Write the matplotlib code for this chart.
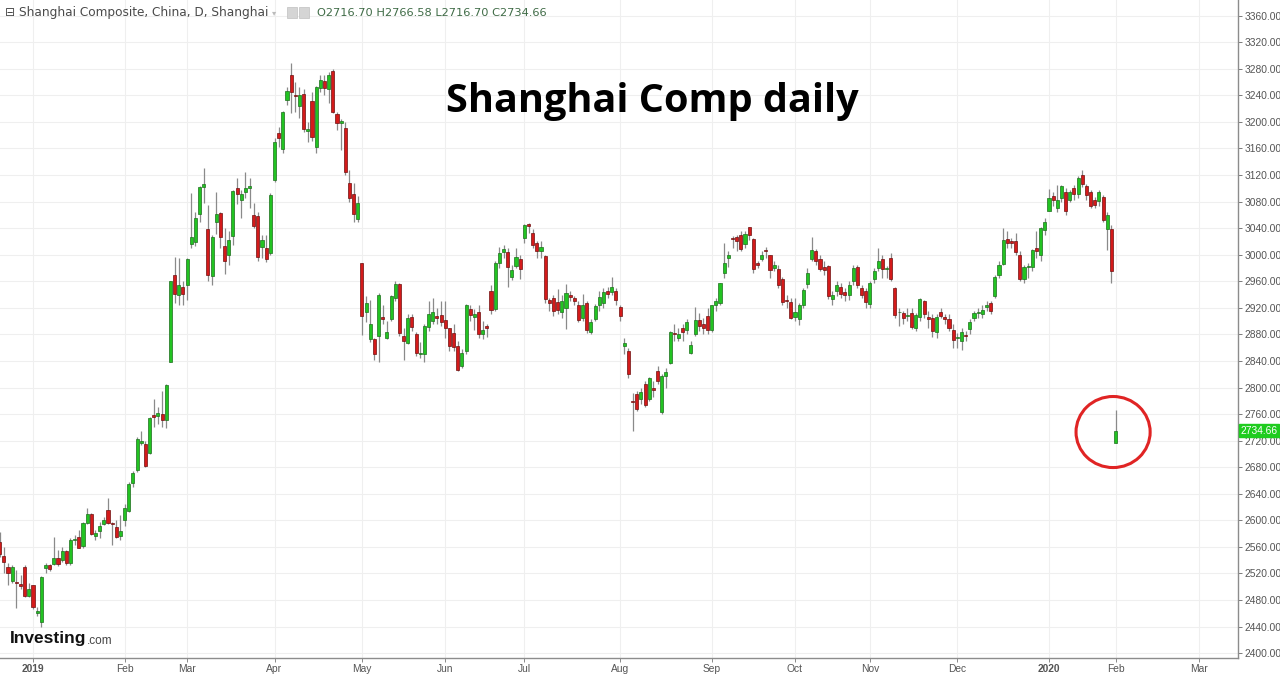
import numpy as np
import pandas as pd
import matplotlib
matplotlib.use("Agg")
from matplotlib import pyplot as plt
from matplotlib import font_manager
from matplotlib.patches import Ellipse, Rectangle

# Shanghai Composite daily OHLC, 19 Dec 2018 .. 3 Feb 2020
opens = [
    2568, 2547, 2530, 2509, 2507, 2504, 2530, 2486,  # Dec 2018
    2502, 2461, 2447, 2528, 2533, 2534, 2544, 2540, 2554, 2536, 2570,
    2575, 2562, 2596, 2610, 2576, 2584, 2594, 2615, 2596, 2590, 2576,  # Jan
    2600, 2614, 2656, 2676, 2716, 2715, 2702, 2759, 2757, 2760, 2751,
    2838, 2970, 2940, 2952,  # Feb
    2954, 3016, 3019, 3061, 3102, 3039, 2968, 3049, 3063, 3013, 2999,
    3028, 3100, 3083, 3094, 3100, 3060, 3058, 3012, 3010, 3002,  # Mar
    3113, 3184, 3159, 3233, 3271, 3241, 3224, 3242, 3186, 3232, 3162,
    3251, 3261, 3249, 3277, 3212, 3198, 3191, 3108, 3091, 3054,  # Apr
    2987, 2914, 2873, 2873, 2878, 2906, 2875, 2903, 2935, 2956, 2877,
    2867, 2906, 2880, 2850, 2851, 2891, 2900, 2908, 2909,  # May
    2902, 2889, 2882, 2862, 2833, 2855, 2918, 2906, 2913, 2881, 2893,
    2945, 2918, 2987, 3004, 3004, 2966, 2983, 2993,  # Jun
    3025, 3046, 3032, 3017, 3005, 2998, 2932, 2935, 2929, 2914, 2920,
    2940, 2935, 2925, 2905, 2927, 2883, 2903, 2925, 2928, 2946, 2944, 2946,  # Jul
    2922, 2862, 2855, 2780, 2791, 2783, 2806, 2783, 2800, 2825, 2763,
    2817, 2837, 2882, 2875, 2889, 2886, 2852, 2880, 2901, 2895, 2908,  # Aug
    2887, 2924, 2928, 2973, 2995, 3025, 3027, 3030, 3016, 3042, 3024,
    2987, 2993, 3006, 3000, 2980, 2978, 2964, 2932, 2929,  # Sep
    2906, 2903, 2925, 2956, 2993, 3005, 2993, 2982, 2983, 2933, 2945,
    2952, 2944, 2940, 2960, 2982, 2950, 2945,  # Oct
    2926, 2964, 2980, 2993, 2978, 2995, 2950, 2913, 2912, 2908, 2912,
    2890, 2906, 2930, 2906, 2905, 2884, 2913, 2906, 2903, 2887,  # Nov
    2875, 2870, 2879, 2888, 2904, 2912, 2910, 2921, 2927, 2938, 2970,
    2986, 3023, 3020, 3020, 3000, 2963, 2981, 2981, 3010, 3000, 3037,  # Dec
    3066, 3089, 3070, 3085, 3095, 3082, 3101, 3092, 3120, 3103, 3095,
    3083, 3081, 3087, 3038, 3038,  # Jan 2020
    2716.70,  # Feb 2020
]
highs = [
    2582, 2560, 2536, 2533, 2525, 2518, 2533, 2506,
    2503, 2470, 2516, 2536, 2535, 2575, 2555, 2560, 2556, 2573, 2578,
    2585, 2598, 2618, 2611, 2585, 2597, 2605, 2633, 2597, 2600, 2608,
    2625, 2658, 2675, 2725, 2734, 2720, 2755, 2783, 2770, 2795, 2805,
    2961, 2996, 2995, 2960,
    2995, 3093, 3065, 3103, 3130, 3075, 3030, 3094, 3065, 3041, 3035,
    3098, 3115, 3098, 3124, 3115, 3078, 3065, 3030, 3030, 3093,
    3176, 3192, 3217, 3252, 3289, 3260, 3252, 3250, 3200, 3245, 3254,
    3270, 3270, 3275, 3280, 3215, 3205, 3200, 3128, 3108, 3088,
    2988, 2938, 2932, 2875, 2942, 2925, 2900, 2939, 2960, 2957, 2890,
    2910, 2910, 2883, 2868, 2895, 2930, 2935, 2920, 2930,
    2930, 2890, 2895, 2870, 2858, 2926, 2925, 2918, 2925, 2900, 2896,
    2954, 2990, 3011, 3015, 3010, 2985, 3010, 3000,
    3047, 3048, 3038, 3020, 3020, 3000, 2935, 2940, 2948, 2940, 2956,
    2945, 2938, 2930, 2941, 2930, 2903, 2926, 2945, 2950, 2952, 2967, 2950,
    2925, 2875, 2860, 2792, 2795, 2800, 2810, 2816, 2810, 2832, 2820,
    2830, 2885, 2895, 2890, 2895, 2903, 2870, 2921, 2912, 2905, 2920,
    2925, 2935, 2958, 3017, 3005, 3028, 3030, 3035, 3035, 3042, 3025,
    2990, 3005, 3012, 3000, 2990, 2985, 2966, 2940, 2935,
    2935, 2927, 2950, 2980, 3027, 3008, 3000, 2990, 2985, 2945, 2960,
    2958, 2950, 2960, 2985, 2985, 2955, 2950,
    2960, 2980, 3010, 3000, 2983, 3003, 2952, 2920, 2915, 2920, 2920,
    2912, 2935, 2932, 2915, 2910, 2910, 2920, 2910, 2910, 2895,
    2882, 2890, 2885, 2903, 2915, 2920, 2925, 2930, 2930, 2970, 2990,
    3040, 3036, 3025, 3032, 3005, 2985, 2988, 3008, 3035, 3042, 3055,
    3099, 3094, 3105, 3105, 3100, 3098, 3105, 3118, 3128, 3107, 3098,
    3087, 3098, 3090, 3065, 3045,
    2766.58,
]
lows = [
    2545, 2521, 2502, 2506, 2468, 2497, 2484, 2484,
    2466, 2456, 2440, 2520, 2523, 2533, 2531, 2537, 2532, 2533, 2563,
    2558, 2559, 2595, 2578, 2570, 2573, 2593, 2595, 2563, 2573, 2570,
    2592, 2612, 2650, 2673, 2713, 2680, 2700, 2741, 2745, 2740, 2739,
    2838, 2927, 2925, 2925,
    2932, 3010, 3013, 3050, 3078, 2960, 2955, 3031, 3010, 2971, 2985,
    3015, 3077, 3055, 3085, 3070, 3040, 2990, 2995, 2989, 2999,
    3110, 3162, 3153, 3226, 3213, 3215, 3206, 3185, 3170, 3172, 3153,
    3245, 3240, 3228, 3213, 3188, 3158, 3120, 3080, 3050, 3050,
    2879, 2898, 2868, 2841, 2838, 2895, 2873, 2900, 2930, 2878, 2841,
    2865, 2885, 2848, 2845, 2838, 2885, 2895, 2895, 2892,
    2875, 2855, 2855, 2825, 2830, 2850, 2900, 2887, 2875, 2873, 2876,
    2910, 2916, 2980, 2995, 2951, 2962, 2980, 2963,
    3018, 3033, 3010, 2995, 2995, 2928, 2915, 2908, 2910, 2905, 2888,
    2930, 2925, 2898, 2900, 2882, 2880, 2900, 2915, 2920, 2935, 2940, 2925,
    2900, 2850, 2815, 2734, 2764, 2775, 2770, 2780, 2785, 2805, 2760,
    2800, 2835, 2870, 2870, 2870, 2880, 2850, 2878, 2885, 2880, 2880,
    2883, 2915, 2925, 2965, 2981, 3010, 3005, 3005, 3010, 3022, 2972,
    2980, 2990, 2995, 2965, 2975, 2950, 2925, 2920, 2903,
    2900, 2894, 2920, 2950, 2990, 2985, 2975, 2970, 2933, 2925, 2938,
    2935, 2930, 2932, 2955, 2950, 2935, 2920,
    2920, 2958, 2975, 2965, 2965, 2960, 2905, 2893, 2895, 2900, 2888,
    2885, 2900, 2905, 2890, 2876, 2875, 2905, 2895, 2885, 2859,
    2860, 2857, 2870, 2880, 2900, 2905, 2905, 2915, 2910, 2935, 2965,
    2984, 3010, 3010, 3000, 2960, 2958, 2965, 2975, 2995, 2990, 3030,
    3066, 3073, 3065, 3080, 3060, 3080, 3082, 3085, 3102, 3083, 3071,
    3070, 3073, 3050, 3007, 2957,
    2716.70,
]
closes = [
    2550, 2538, 2520, 2530, 2505, 2501, 2486, 2497,
    2469, 2464, 2514, 2533, 2526, 2544, 2535, 2554, 2536, 2571, 2572,
    2559, 2596, 2610, 2579, 2581, 2591, 2601, 2596, 2594, 2575, 2584,
    2618, 2654, 2672, 2722, 2720, 2682, 2754, 2755, 2761, 2751, 2804,
    2961, 2941, 2954, 2941,
    2994, 3027, 3055, 3102, 3106, 2970, 3026, 3061, 3026, 2990, 3022,
    3096, 3091, 3091, 3101, 3104, 3043, 2997, 3022, 2994, 3090,
    3170, 3176, 3215, 3246, 3245, 3239, 3241, 3189, 3189, 3177, 3253,
    3263, 3251, 3271, 3215, 3198, 3201, 3124, 3086, 3062, 3078,
    2908, 2927, 2896, 2850, 2940, 2903, 2884, 2938, 2956, 2882, 2870,
    2905, 2891, 2852, 2852, 2893, 2910, 2914, 2905, 2898,
    2890, 2862, 2861, 2827, 2852, 2925, 2909, 2910, 2881, 2887, 2890,
    2917, 2988, 3002, 3008, 2982, 2977, 2996, 2979,
    3045, 3043, 3015, 3005, 3011, 2934, 2928, 2915, 2917, 2930, 2942,
    2937, 2931, 2901, 2924, 2886, 2899, 2923, 2937, 2944, 2941, 2952, 2932,
    2908, 2867, 2821, 2778, 2768, 2794, 2774, 2814, 2797, 2810, 2817,
    2824, 2884, 2880, 2881, 2883, 2898, 2864, 2902, 2893, 2890, 2886,
    2924, 2930, 2957, 2987, 3000, 3024, 3021, 3008, 3031, 3030, 2978,
    2985, 2999, 3005, 2977, 2985, 2955, 2929, 2931, 2905,
    2913, 2924, 2947, 2973, 3007, 2991, 2978, 2977, 2938, 2939, 2954,
    2941, 2940, 2954, 2980, 2954, 2939, 2929,
    2958, 2975, 2991, 2978, 2979, 2964, 2909, 2914, 2905, 2909, 2891,
    2909, 2933, 2911, 2903, 2885, 2906, 2907, 2903, 2889, 2871,
    2876, 2884, 2878, 2899, 2912, 2914, 2917, 2924, 2915, 2967, 2984,
    3022, 3017, 3017, 3004, 2963, 2982, 2981, 3007, 3005, 3040, 3050,
    3085, 3083, 3083, 3104, 3066, 3094, 3092, 3115, 3106, 3090, 3074,
    3075, 3095, 3052, 3060, 2976,
    2734.66,
]

# exchange holidays that fall on weekdays
holidays = ["2018-12-31", "2019-01-01", "2019-02-04", "2019-02-05", "2019-02-06",
            "2019-02-07", "2019-02-08", "2019-04-05", "2019-05-01", "2019-05-02",
            "2019-05-03", "2019-06-07", "2019-09-13", "2019-10-01", "2019-10-02",
            "2019-10-03", "2019-10-04", "2019-10-07", "2020-01-01", "2020-01-24",
            "2020-01-27", "2020-01-28", "2020-01-29", "2020-01-30", "2020-01-31"]

tick_months = ["2019-01", "2019-02", "2019-03", "2019-04", "2019-05", "2019-06",
               "2019-07", "2019-08", "2019-09", "2019-10", "2019-11", "2019-12",
               "2020-01", "2020-02", "2020-03"]
tick_labels = ["2019", "Feb", "Mar", "Apr", "May", "Jun", "Jul", "Aug", "Sep",
               "Oct", "Nov", "Dec", "2020", "Feb", "Mar"]

last = {"O": 2716.70, "H": 2766.58, "L": 2716.70, "C": 2734.66}

days = pd.bdate_range("2018-12-19", "2020-03-31")
days = days[~days.isin(pd.to_datetime(holidays))]
months = days.strftime("%Y-%m")
tick_pos = [int(np.argmax(months == m)) for m in tick_months]

o = np.array(opens, float)
h = np.array(highs, float)
l = np.array(lows, float)
c = np.array(closes, float)
x = np.arange(len(o))

axis_font = "Liberation Sans"

fig = plt.figure(figsize=(12.8, 6.75), dpi=100)
ax = fig.add_axes([0, 17 / 675, 1238 / 1280, 658 / 675])

up = c >= o
body_lo = np.minimum(o, c)
body_h = np.maximum(np.abs(c - o), 1.4)
col = np.where(up, "#22c322", "#d41a1a")
edge = np.where(up, "#1d6e1d", "#6e1010")

ax.vlines(x, l, h, color="#8a8a8a", lw=0.9, zorder=2)
ax.bar(x, body_h, bottom=body_lo, width=0.74, color=col, edgecolor=edge,
       linewidth=0.5, zorder=3)

ax.set_xlim(0.07, 297.4)
ax.set_ylim(2392.7, 3383.6)

ax.set_yticks(np.arange(2400, 3361, 40))
ax.yaxis.set_major_formatter(matplotlib.ticker.FormatStrFormatter("%.2f"))
ax.yaxis.tick_right()
ax.set_xticks(tick_pos)
ax.set_xticklabels(tick_labels)
for lab in ax.get_xticklabels() + ax.get_yticklabels():
    lab.set_family(axis_font)
for lab in ax.get_xticklabels():
    if lab.get_text() in ("2019", "2020"):
        lab.set_fontweight("bold")
        lab.set_color("#333333")
ax.tick_params(axis="y", labelsize=7.4, colors="#666666", length=3, width=0.6,
               pad=1.5, labelcolor="#555555")
ax.tick_params(axis="x", labelsize=7.4, colors="#777777", length=3, width=0.6,
               pad=1, labelcolor="#555555")
ax.grid(True, color="#efefef", lw=0.8, zorder=0)
for s in ("left", "top"):
    ax.spines[s].set_visible(False)
for s in ("right", "bottom"):
    ax.spines[s].set_color("#8c8c8c")
    ax.spines[s].set_linewidth(1.0)

# last price tag on the axis
ax.annotate(f"{last['C']:.2f}", xy=(1.0, last["C"]), xycoords=("axes fraction", "data"),
            xytext=(1.5, 0), textcoords="offset points", ha="left", va="center",
            fontsize=7.4, family=axis_font, color="white",
            bbox=dict(boxstyle="square,pad=0.15", fc="#1fcc1f", ec="#1fcc1f"))

# red circle round the last candle
ax.add_patch(Ellipse((267.4, 2733), 17.8, 107, fill=False, ec="#e02424", lw=2.2,
                     zorder=4))

# header
fig.text(0.004, 0.981, "\u229f Shanghai Composite, China, D, Shanghai", fontsize=8.7,
         color="#4a4a4a", va="center", ha="left")
fig.text(0.2125, 0.981, "\u25be", fontsize=6, color="#bbbbbb", va="center")
for px in (287, 299):
    fig.patches.append(Rectangle((px / 1280, 0.973), 10 / 1280, 11 / 675,
                                 transform=fig.transFigure, fc="#d5d5d5",
                                 ec="#c0c0c0", lw=0.5))
fig.text(0.248, 0.981,
         f"O{last['O']:.2f} H{last['H']:.2f} L{last['L']:.2f} C{last['C']:.2f}",
         fontsize=8.2, color="#3f6b46", va="center", ha="left")

fig.text(0.51, 0.849, "Shanghai Comp daily", fontsize=28.5, fontweight="bold",
         family="Open Sans", ha="center", va="center", color="black")

# logo
names = {f.name for f in font_manager.fontManager.ttflist}
logo_font = "Liberation Sans Narrow" if "Liberation Sans Narrow" in names else "Liberation Sans"
logo = fig.text(10 / 1280, 1 - 639 / 675, "Investing", fontsize=12.5, fontweight="bold",
                family=logo_font, color="#111111", va="center", ha="left")
bb = logo.get_window_extent(renderer=fig.canvas.get_renderer())
fig.text(bb.x1 / 1280 + 0.0005, 1 - 641 / 675, ".com", fontsize=8.5, family=logo_font,
         color="#444444", va="center", ha="left")

fig.savefig("out.png", dpi=100)
